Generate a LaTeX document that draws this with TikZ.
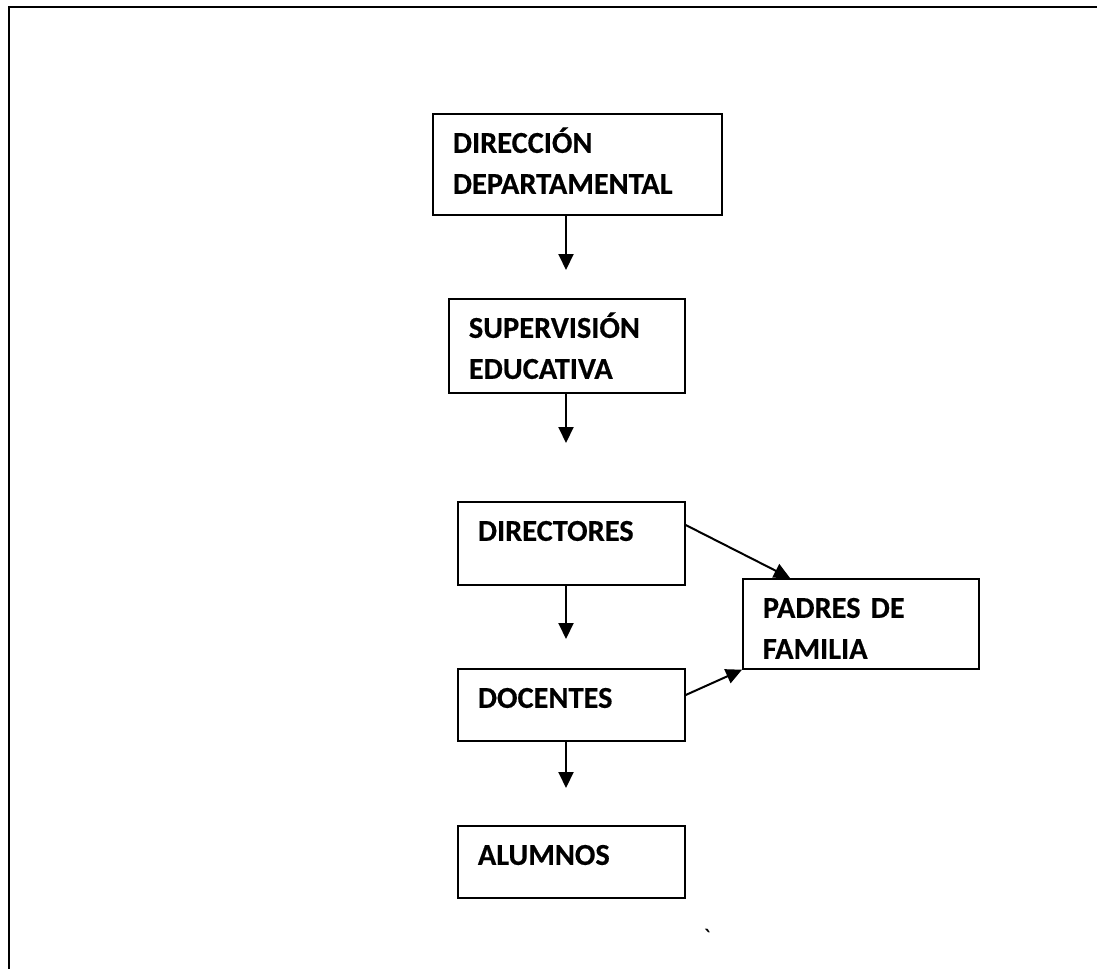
\documentclass[tikz,border=0pt]{standalone}
\usepackage{fontspec}
\setmainfont[BoldFeatures={FakeBold=0.4}]{Carlito}
\usetikzlibrary{arrows.meta}
\begin{document}
\begin{tikzpicture}[x=0.5pt,y=-0.5pt,
  box/.style={draw,line width=0.85pt,anchor=north west,inner xsep=10pt,inner ysep=9.9pt,align=left,text height=9.6pt,font=\fontsize{15.2}{20.5}\selectfont\bfseries},
  arr/.style={line width=1pt,-{Triangle[length=8pt,width=7.5pt]}}]
\useasboundingbox (0,0) rectangle (1097,969);
\draw[line width=1.4pt] (1097,7) -- (9,7) -- (9,969);
\node[box,text width=124.5pt,text depth=21.1pt] (dirdep) at (432,113) {DIRECCIÓN\\DEPARTAMENTAL};
\node[box,text width=98pt,text depth=17.6pt] (supedu) at (448,298) {SUPERVISIÓN\\EDUCATIVA};
\node[box,text width=93.5pt,text depth=12.1pt] (directores) at (457,501) {DIRECTORES};
\node[box,text width=98pt,text depth=15.6pt] (padres) at (742,578) {PADRES DE\\FAMILIA};
\node[box,text width=93.5pt,text depth=6.6pt] (docentes) at (457,668) {DOCENTES};
\node[box,text width=93.5pt,text depth=6.6pt] (alumnos) at (457,825) {ALUMNOS};
\coordinate (t1) at (566,270);
\coordinate (t2) at (566,443);
\coordinate (t3) at (566,639);
\coordinate (t4) at (566,788);
\draw[arr] (dirdep.south -| t1) -- (t1);
\draw[arr] (supedu.south -| t2) -- (t2);
\draw[arr] (directores.south -| t3) -- (t3);
\draw[arr] (docentes.south -| t4) -- (t4);
\draw[arr] ([yshift=-12pt]directores.north east) -- ([xshift=24pt]padres.north west);
\draw[arr] ([yshift=-13.5pt]docentes.north east) -- (padres.south west);
\node[font=\fontsize{13.4}{16}\selectfont] (tick) at (707,938) {\textasciigrave};
\end{tikzpicture}
\end{document}
